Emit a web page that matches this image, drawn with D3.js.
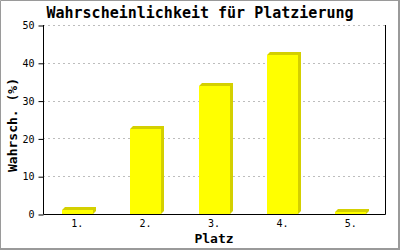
<!DOCTYPE html>
<html>
<head>
<meta charset="utf-8">
<script src="https://cdn.jsdelivr.net/npm/d3@7"></script>
<style>
  body { margin: 0; background: #fff; }
  text { font-family: "DejaVu Sans Mono", "Liberation Mono", monospace; }
</style>
</head>
<body>
<script>
var width = 400; // canvas width
var height = 250; // canvas height

var categories = ["1.", "2.", "3.", "4.", "5."];
var values = [1.0, 22.5, 33.9, 42.1, 0.6];
var yTicks = [0, 10, 20, 30, 40, 50];

var margin = {left: 43, right: 15, top: 25, bottom: 36};
var depth = 3; // 3d offset of the bars

var svg = d3.select("body")
  .append("svg")
  .attr("width", width)
  .attr("height", height);

// outer frame
svg.append("rect")
  .attr("x", 0).attr("y", 0)
  .attr("width", width).attr("height", height)
  .attr("fill", "#fff");
svg.append("path")
  .attr("d", "M0.5,249 V0.5 H399")
  .attr("fill", "none").attr("stroke", "#9a9a9a");
svg.append("path")
  .attr("d", "M399,0 V399 M0,249 H400")
  .attr("fill", "none").attr("stroke", "#9a9a9a").attr("stroke-width", 2);

var x = d3.scaleBand()
  .domain(categories)
  .range([margin.left, width - margin.right]);

var y = d3.scaleLinear()
  .domain([0, 50])
  .range([height - margin.bottom, margin.top]);

// grid lines
svg.append("g")
  .selectAll("line")
  .data(yTicks.slice(1))
  .enter()
  .append("line")
  .attr("x1", margin.left)
  .attr("x2", width - margin.right)
  .attr("y1", function(d) { return Math.round(y(d)) + 0.5; })
  .attr("y2", function(d) { return Math.round(y(d)) + 0.5; })
  .attr("stroke", "#bdbdbd")
  .attr("stroke-dasharray", "2,3");

// bars
var barW = 31;
var bar = svg.selectAll(".bar")
  .data(values)
  .enter()
  .append("g")
  .attr("class", "bar");

bar.append("path")
  .attr("fill", "#d4d000")
  .attr("d", function(d, i) {
    var x0 = Math.round(x(categories[i]) + x.bandwidth() / 2 - barW / 2);
    var x1 = x0 + barW;
    var yt = Math.round(y(d));
    var yb = Math.round(y(0));
    return "M" + x0 + "," + yt +
      "L" + (x0 + depth) + "," + (yt - depth) +
      "L" + (x1 + depth) + "," + (yt - depth) +
      "L" + (x1 + depth) + "," + (yb - depth) +
      "L" + x1 + "," + yb +
      "L" + x1 + "," + yt + "Z";
  });

bar.append("rect")
  .attr("fill", "#ffff00")
  .attr("x", function(d, i) {
    return Math.round(x(categories[i]) + x.bandwidth() / 2 - barW / 2);
  })
  .attr("y", function(d) { return Math.round(y(d)); })
  .attr("width", barW)
  .attr("height", function(d) { return Math.round(y(0)) - Math.round(y(d)); });

// frame lines of the plot
var yb = Math.round(y(0)) + 0.5;
svg.append("path")
  .attr("d", "M" + (margin.left + 0.5) + "," + margin.top + " V" + yb +
    " H" + (width - margin.right + 0.5) + " V" + margin.top)
  .attr("fill", "none")
  .attr("stroke", "#000");

// y axis
var yAxis = d3.axisLeft(y)
  .tickValues(yTicks)
  .tickSize(5)
  .tickPadding(4);

var gy = svg.append("g")
  .attr("transform", "translate(" + (margin.left + 0.5) + ",0.5)")
  .call(yAxis);
gy.select(".domain").remove();
gy.selectAll("text")
  .attr("font-family", "DejaVu Sans Mono")
  .attr("font-size", 10)
  .attr("fill", "#000");

// x tick labels
svg.append("g")
  .selectAll("text")
  .data(categories)
  .enter()
  .append("text")
  .attr("x", function(d) { return x(d) + x.bandwidth() / 2; })
  .attr("y", 227)
  .attr("text-anchor", "middle")
  .attr("font-size", 10)
  .text(function(d) { return d; });

// titles
svg.append("text")
  .attr("x", 200)
  .attr("y", 18)
  .attr("text-anchor", "middle")
  .attr("font-size", 15)
  .attr("font-weight", "bold")
  .text("Wahrscheinlichkeit für Platzierung");

svg.append("text")
  .attr("x", 214)
  .attr("y", 243)
  .attr("text-anchor", "middle")
  .attr("font-size", 13)
  .attr("font-weight", "bold")
  .text("Platz");

svg.append("text")
  .attr("transform", "translate(17,125) rotate(-90)")
  .attr("text-anchor", "middle")
  .attr("font-size", 13)
  .attr("font-weight", "bold")
  .text("Wahrsch. (%)");
</script>
</body>
</html>
